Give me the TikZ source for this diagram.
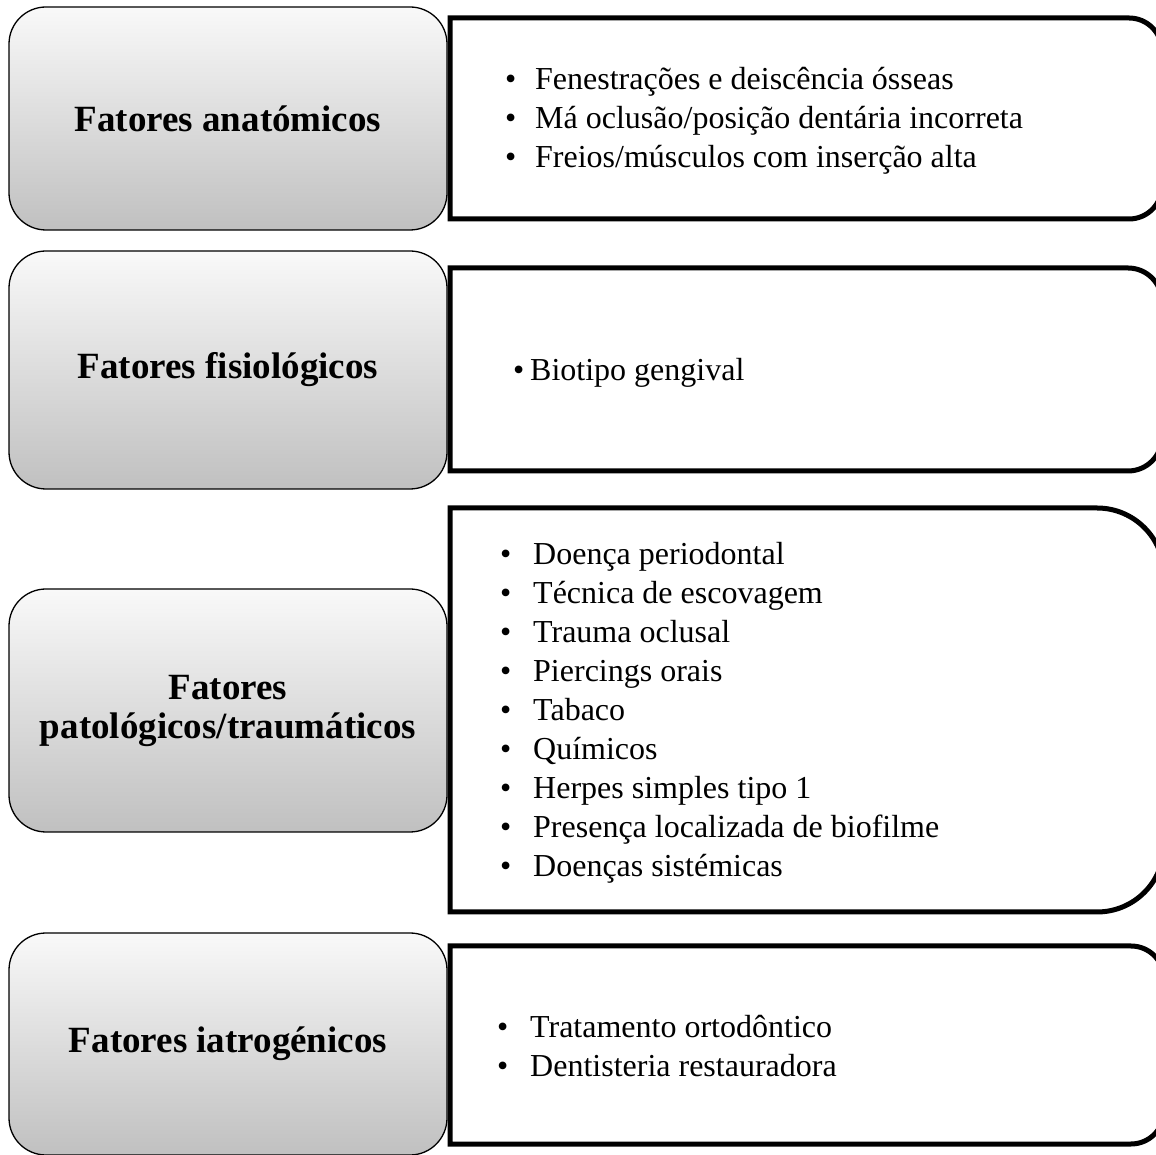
\documentclass[tikz,border=0pt]{standalone}
\usepackage{fontspec}
\setmainfont{Liberation Serif}
\definecolor{gtop}{RGB}{249,249,249}
\definecolor{gbot}{RGB}{192,192,192}
\begin{document}
\begin{tikzpicture}[x=1pt,y=1pt,
  factor/.style={draw=black, line width=1.3pt, rounded corners=37pt,
    top color=gtop, bottom color=gbot, minimum width=438pt, inner sep=0pt,
    font=\fontsize{37}{39}\selectfont\bfseries, align=center},
  listbox/.style={draw=black, line width=5pt, fill=white},
  items/.style={font=\fontsize{32}{39}\selectfont, align=left, anchor=west, inner sep=0pt}]
\useasboundingbox (0,0) rectangle (1156,1154);
\clip (0,0) rectangle (1156,1154);
% right list boxes (square left corners, rounded right corners)
\draw[listbox] (450,935) -- (450,1136) -- (1129,1136) arc[start angle=90,end angle=0,radius=33]
  -- (1162,968) arc[start angle=0,end angle=-90,radius=33] -- cycle;
\draw[listbox] (450,683) -- (450,886) -- (1128,886) arc[start angle=90,end angle=0,radius=34]
  -- (1162,717) arc[start angle=0,end angle=-90,radius=34] -- cycle;
\draw[listbox] (450,242) -- (450,646) -- (1097,646) arc[start angle=90,end angle=0,radius=67]
  -- (1164,309) arc[start angle=0,end angle=-90,radius=67] -- cycle;
\draw[listbox] (450,10) -- (450,208) -- (1131,208) arc[start angle=90,end angle=0,radius=33]
  -- (1164,43) arc[start angle=0,end angle=-90,radius=33] -- cycle;
% left factor boxes
\node[factor, minimum height=223pt] (f1) at (228,1035.5) {Fatores anatómicos};
\node[factor, minimum height=238pt] (f2) at (228,784) {Fatores fisiológicos};
\node[factor, minimum height=243pt] (f3) at (228,443.5) {Fatores\\patológicos/traumáticos};
\node[factor, minimum height=222pt] (f4) at (228,110) {Fatores iatrogénicos};
% list texts
\node[items] (l1) at (505,1033) {\makebox[30pt][l]{\textbullet}Fenestrações e deiscência ósseas\\
  \makebox[30pt][l]{\textbullet}Má oclusão/posição dentária incorreta\\
  \makebox[30pt][l]{\textbullet}Freios/músculos com inserção alta};
\node[items] (l2) at (513,781) {\makebox[17pt][l]{\textbullet}Biotipo gengival};
\node[items] (l3) at (500,441) {\makebox[33pt][l]{\textbullet}Doença periodontal\\
  \makebox[33pt][l]{\textbullet}Técnica de escovagem\\
  \makebox[33pt][l]{\textbullet}Trauma oclusal\\
  \makebox[33pt][l]{\textbullet}Piercings orais\\
  \makebox[33pt][l]{\textbullet}Tabaco\\
  \makebox[33pt][l]{\textbullet}Químicos\\
  \makebox[33pt][l]{\textbullet}Herpes simples tipo 1\\
  \makebox[33pt][l]{\textbullet}Presença localizada de biofilme\\
  \makebox[33pt][l]{\textbullet}Doenças sistémicas};
\node[items] (l4) at (497,108) {\makebox[33pt][l]{\textbullet}Tratamento ortodôntico\\
  \makebox[33pt][l]{\textbullet}Dentisteria restauradora};
\end{tikzpicture}
\end{document}
